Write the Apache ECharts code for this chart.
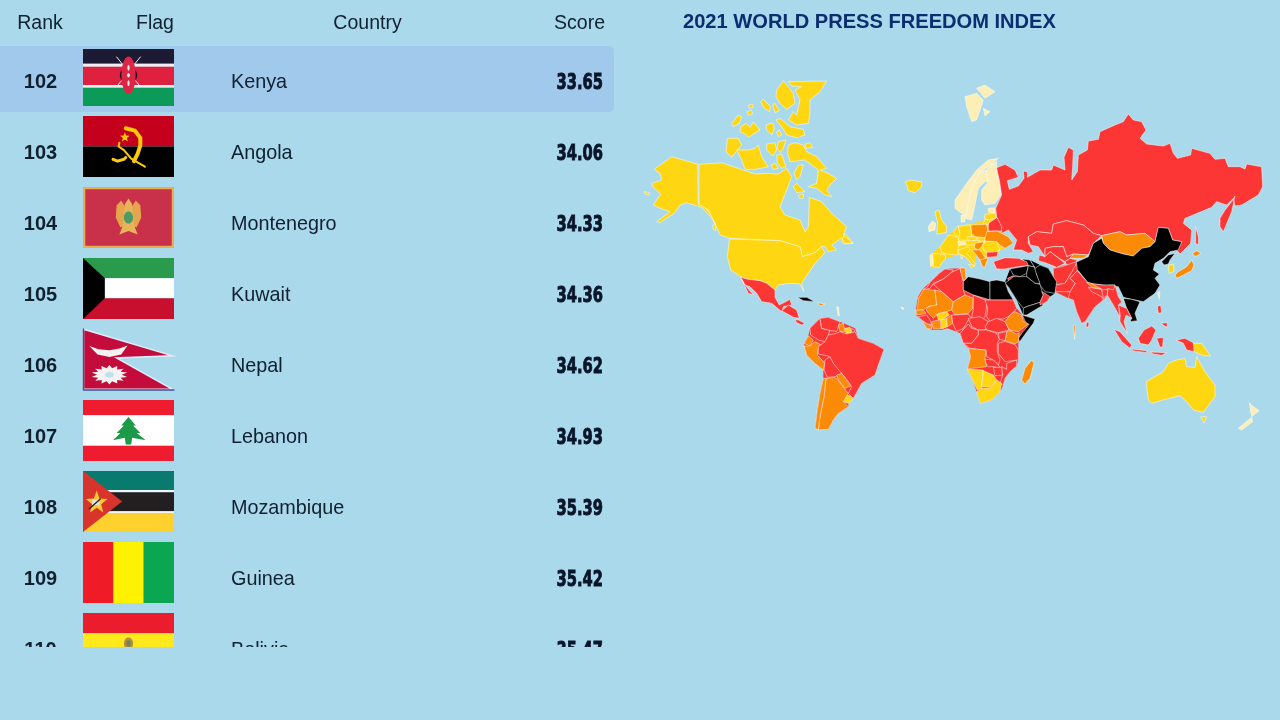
<!DOCTYPE html>
<html><head><meta charset="utf-8">
<style>html,body{margin:0;padding:0;background:#a9d9eb}#c{width:1280px;height:720px}</style>
<script src="https://cdn.jsdelivr.net/npm/echarts@6/dist/echarts.min.js"></script>
</head><body><div id="c"></div>
<script>
// ---- table values ----
const headers = ['Rank', 'Flag', 'Country', 'Score'];
const ranks = [102, 103, 104, 105, 106, 107, 108, 109, 110];
const countries = ['Kenya', 'Angola', 'Montenegro', 'Kuwait', 'Nepal', 'Lebanon', 'Mozambique', 'Guinea', 'Bolivia'];
const scores = ['33.65', '34.06', '34.33', '34.36', '34.62', '34.93', '35.39', '35.42', '35.47'];
const chartTitle = '2021 WORLD PRESS FREEDOM INDEX';
const bandColors = ['#fdeeb6', '#ffd612', '#fb8a06', '#fc3535', '#000000'];

// ---- map outline helpers: outlines traced in a local frame, scaled to the map's units ----
const F = (ox, oy) => flat => { const r = []; for (let i = 0; i < flat.length; i += 2) r.push([ox + flat[i] / 3, -(oy + flat[i + 1] / 3)]); return r; };
const a = F(640, 70), b = F(950, 70), c = F(740, 260), d = F(1020, 250), e = F(985, 245), g = F(910, 265), h = F(960, 310), k = F(925, 195), n = F(900, 150);
const landUnderlays = [
 ['land-africa', 3, [[...g([62,50,88,25,105,12,150,10,165,8,168,40,175,35,210,42,240,50]), ...e([35,105,60,110,70,140,85,165,95,190,112,210,150,222,120,268,104,290]), ...h([175,95,175,120,175,150,170,168,150,185,135,205,130,225,120,245,95,270,60,280,50,245,40,215,22,178,32,140,25,115,10,100,5,85,0,70]), ...g([140,200,112,190,95,195,70,195,50,190,35,165,18,150,18,135,22,103,35,75])]]],
 ['land-samerica', 3, [c([192,250,205,228,210,205,240,175,265,172,300,185,345,205,355,235,400,250,432,268,415,315,405,345,365,370,340,415,325,430,325,440,295,460,280,480,265,508,225,505,232,450,240,400,250,355,250,330,225,310,200,285])]],
 ['land-europe', 1, [k([15,180,22,175,45,155,70,120,85,110,100,92,135,88,180,75,190,40,210,38,215,68,235,85,230,108,250,125,265,145,240,160,225,165,215,185,190,188,185,200,178,220,165,195,150,175,150,205,148,215,120,185,100,175,100,180,62,190,50,205,42,218,17,215])]],
 ['land-arabia', 4, [e([60,112,75,72,130,62,135,45,165,60,190,70,215,110,210,145,195,155,185,170,165,180,125,210,115,210,95,165,70,125])]],
 ['land-sasia', 3, [d([100,55,170,35,172,62,205,100,285,105,295,140,305,155,295,165,300,200,280,165,262,135,250,150,225,170,195,215,185,220,170,185,160,150,145,145,105,125])]]
];
const mapShapes = [
 ['Alaska', 1, [a([42,298,95,260,173,282,175,402,195,412,218,440,225,462,212,440,185,412,140,398,120,405,105,428,60,458,50,455,90,425,60,415,40,405,62,372,40,352,35,340,65,330,60,310]), a([12,365,28,368,28,375,15,372])]],
 ['Canada', 1, [a([177,283,245,278,310,300,345,312,380,310,415,312,440,295,455,320,440,360,420,410,435,435,480,450,495,485,505,470,508,382,545,395,575,430,620,470,610,495,640,520,615,520,605,505,575,525,590,540,565,545,555,530,545,528,525,548,487,560,480,530,420,512,270,505,240,495,225,460,205,420,177,403]),
   a([410,60,430,32,445,50,460,70,465,100,440,118,420,100,408,80]), a([445,35,560,33,540,65,510,90,510,130,505,160,470,165,445,150,460,125,470,135,480,90,465,60,485,50,455,48]),
   a([362,95,370,88,392,110,388,125,370,112]), a([398,105,405,100,418,122,405,128]), a([325,105,338,102,340,112,328,115]), a([320,125,335,120,338,132,325,136]),
   a([275,160,295,135,305,140,298,160,280,170]), a([302,170,318,160,330,172,340,155,360,180,325,202,315,192,300,185]), a([378,165,398,158,403,175,395,195,380,180]),
   a([408,150,420,145,450,170,490,178,495,195,470,203,440,195,425,170]), a([410,185,418,180,425,195,415,200]), a([262,205,295,205,305,225,275,262,258,245]),
   a([290,240,325,240,345,235,355,225,365,260,385,290,345,298,315,298,305,270]), a([380,222,405,218,410,240,398,258,380,240]), a([415,215,438,210,430,235,420,248,412,235]),
   a([410,255,425,252,438,290,425,295,412,280]), a([393,285,405,280,415,295,400,298]),
   a([445,225,465,218,490,225,500,245,530,260,560,295,540,300,565,310,590,325,570,345,560,360,575,380,555,375,530,355,505,350,530,340,535,300,495,270,450,275,443,250]),
   a([462,310,475,285,490,285,480,320,470,330]), a([495,222,510,218,518,232,498,235]), a([460,350,470,340,495,365,470,368]), a([475,375,490,372,490,385,478,385]),
   a([605,515,615,490,640,520,610,522]), a([218,465,225,462,228,482,220,478])]],
 ['USA', 1, [[...a([268,507,420,512,480,530,487,560,525,548,545,530,555,548,540,565,525,580]), ...c([205,40,185,70,192,95,180,72,150,70,115,75,105,90,80,70,60,62,25,58,2,50]), ...a([272,600,262,560])]]],
 ['Mexico', 3, [c([2,52,25,58,60,62,80,70,105,90,105,112,118,135,150,118,155,135,130,140,125,155,95,130,65,125,50,100,30,80,15,75]), c([5,58,15,75,40,105,25,100])]],
 ['Central America', 3, [c([125,152,145,135,170,150,178,175,160,172,130,155]), c([165,178,175,180,195,190,185,195,170,188])]],
 ['Cuba', 4, [c([172,112,200,112,225,125,190,122])]],
 ['Haiti', 2, [c([233,128,255,132,240,138])]],
 ['Antilles', 0, [c([290,140,296,142,298,168,294,166]), c([483,140,492,145,488,150])]],
 ['Colombia', 3, [c([210,205,240,175,245,205,270,210,265,225,255,245,235,240,212,225])]],
 ['Venezuela', 3, [c([240,175,265,172,300,185,290,215,265,210,245,205])]],
 ['Guyana', 2, [c([295,195,310,190,315,215,300,215])]],
 ['Suriname', 1, [c([315,205,330,202,335,218,318,220])]],
 ['French Guiana', 3, [c([335,205,345,212,335,222])]],
 ['Ecuador', 2, [c([192,250,205,228,220,240,210,258])]],
 ['Peru', 2, [c([192,258,210,258,225,245,245,255,235,265,232,285,255,310,250,330,225,310,200,285])]],
 ['Brazil', 3, [c([235,260,255,245,265,225,290,220,300,215,320,222,345,215,355,235,400,250,432,268,415,315,405,345,365,370,340,415,325,400,335,380,325,365,305,340,290,338,280,310,265,288,235,282])]],
 ['Bolivia', 3, [c([255,300,270,290,280,310,305,340,300,345,285,350,262,352,252,330])]],
 ['Paraguay', 2, [c([290,345,305,340,320,360,332,378,315,385,295,360])]],
 ['Uruguay', 1, [c([315,402,330,408,340,418,325,430,310,425])]],
 ['Argentina', 2, [c([258,355,285,352,295,362,315,388,325,400,310,425,325,440,295,460,280,480,265,508,235,510,240,470,252,410])]],
 ['Chile', 2, [c([250,355,258,355,252,410,240,470,235,510,225,505,232,450,240,400])]],
 ['Iceland', 1, [a([795,338,810,330,845,335,845,350,825,368,805,362,800,345])]],
 ['Ireland', 0, [k([10,95,22,78,32,85,30,105,12,110])]],
 ['UK', 1, [k([30,50,42,45,50,75,65,95,65,112,35,118,38,85])]],
 ['Norway', 0, [n([165,150,200,100,230,60,265,30,295,25,275,45,240,65,215,115,205,160,195,205,185,190,165,175])]],
 ['Sweden', 0, [n([205,160,215,115,240,65,258,60,265,95,255,95,235,115,225,165,215,210,197,205])]],
 ['Finland', 0, [n([258,60,275,45,290,35,290,60,300,110,302,135,285,160,255,165,245,150,245,120,265,95])]],
 ['Denmark', 0, [n([183,195,195,198,195,215,183,217])]],
 ['Portugal', 0, [k([15,180,25,178,25,210,17,215])]],
 ['Spain', 1, [k([22,175,60,178,62,190,50,205,42,218,25,215,25,195])]],
 ['France', 1, [k([45,155,70,120,95,125,105,140,98,165,100,180,75,178,60,175,50,172]), k([108,178,113,178,112,192,107,190])]],
 ['Benelux', 1, [k([85,110,100,92,105,120,95,125])]],
 ['Germany', 1, [k([100,95,135,88,140,125,128,135,100,135,105,115])]],
 ['Switzerland', 0, [k([98,140,118,138,122,148,102,152])]],
 ['Austria', 1, [k([120,138,165,135,160,150,122,150])]],
 ['Poland', 2, [k([138,90,185,88,190,115,180,128,150,125,140,115])]],
 ['Czechia', 1, [k([128,125,150,125,160,135,130,138])]],
 ['Slovakia', 1, [k([155,128,180,128,180,138,160,138])]],
 ['Belarus', 3, [k([190,85,215,68,235,85,230,108,190,108])]],
 ['Estonia', 0, [k([190,40,210,38,210,55,190,52])]],
 ['Latvia', 1, [k([180,58,210,55,215,68,190,75,178,70])]],
 ['Lithuania', 1, [k([180,72,195,75,190,88,175,85])]],
 ['Ukraine', 2, [k([185,110,215,108,250,125,265,145,240,160,225,150,215,140,180,138,180,130])]],
 ['Hungary', 2, [k([150,145,178,140,170,155,160,165,148,158])]],
 ['Romania', 1, [k([180,140,215,140,225,165,205,175,180,170,170,155])]],
 ['Bulgaria', 3, [k([185,172,220,170,215,185,185,187])]],
 ['Italy', 1, [k([100,165,130,155,135,165,125,175,150,205,148,215,120,185,100,175]), k([130,208,148,212,140,220])]],
 ['Balkans', 2, [k([140,165,165,165,185,195,175,215,165,195,150,175])]],
 ['Greece', 2, [k([165,195,190,188,185,200,178,220,170,210])]],
 ['Svalbard', 0, [b([45,80,80,70,100,90,80,150,65,155,50,110]), b([80,55,105,45,135,65,105,85]), b([100,115,120,125,105,138])]],
 ['Russia', 3, [b([140,293,165,283,195,300,205,322,172,332,178,358,205,348,222,325,220,303,232,305,232,322,270,300,305,300,310,285,345,300,342,262,355,232,370,240,368,290,365,330,382,305,385,255,412,240,415,213,445,208,450,185,495,165,520,155,535,132,550,150,575,155,588,180,570,205,590,222,640,228,660,220,670,250,682,265,722,255,725,235,780,250,795,268,825,265,835,290,870,290,885,297,890,282,935,290,938,350,925,375,875,405,855,408,850,385,830,405,800,395,785,412,705,445,700,460,725,480,722,520,690,552,680,540,695,515,668,510,655,475,625,472,615,515,585,490,530,495,510,485,455,497,430,490,400,465,350,452,310,462,305,490,260,485,235,500,235,520,250,545,235,550,215,540,190,540,200,510,175,480,155,490,155,470,140,440,137,415,155,375,148,330,143,310]),
   b([810,445,825,420,845,395,855,378,845,425,820,485,810,470]), b([737,470,745,500,745,525,737,520])]],
 ['Kazakhstan', 3, [b([235,500,260,485,305,490,310,462,350,452,400,465,430,490,455,497,430,520,415,555,370,552,350,560,340,530,310,530,285,535,285,560,265,530,240,525])]],
 ['Uzbekistan', 3, [b([285,535,310,530,340,530,350,560,370,552,360,565,345,575,320,560,300,545,285,560])]],
 ['Turkmenistan', 3, [b([265,572,268,555,285,560,300,545,320,560,345,580,320,592,290,580,275,575])]],
 ['Kyrgyzstan', 2, [b([370,552,415,555,400,565,360,565])]],
 ['Tajikistan', 3, [b([345,575,360,565,380,570,385,590,350,585])]],
 ['Mongolia', 2, [b([455,497,510,485,530,495,585,490,615,515,600,530,575,535,550,558,520,552,480,540,460,520])]],
 ['China', 4, [[...b([455,505,460,520,480,540,520,552,550,558,575,535,600,530,615,515,625,472,655,475,668,510,695,515,685,540,660,545,640,565,615,580]), ...d([400,60,418,72,405,85,420,105,405,130,370,155,335,148,310,142,295,110,250,105,205,100,175,62,150,45]), ...b([375,578,415,560,430,520])]]],
 ['North Korea', 4, [d([425,35,445,15,465,10,450,30,445,42,432,45])]],
 ['South Korea', 1, [d([445,45,460,42,462,65,447,70])]],
 ['Japan', 2, [d([465,75,475,65,500,50,515,30,522,45,515,62,490,75,470,85]), d([518,10,530,2,543,10,530,18,522,18])]],
 ['Taiwan', 0, [d([412,128,420,125,418,148])]],
 ['Vietnam', 4, [d([310,145,335,148,360,155,345,190,352,212,330,215,335,205,320,175])]],
 ['Thailand', 3, [d([295,165,320,175,335,205,318,195,312,215,322,250,300,215,300,190])]],
 ['Myanmar', 3, [d([265,105,285,105,295,140,305,155,295,165,300,200,280,165,262,135])]],
 ['India', 3, [d([172,62,205,100,250,105,285,105,280,120,262,115,262,135,248,130,245,118,205,112,215,125,245,140,250,150,225,170,195,215,185,220,170,185,160,150,145,145,150,125,165,100,150,85])]],
 ['Bangladesh', 3, [d([245,120,262,118,262,135,250,145])]],
 ['Nepal', 2, [d([200,97,210,98,245,117,215,112])]],
 ['Sri Lanka', 3, [d([200,215,207,220,205,232,198,230])]],
 ['Maldives', 2, [d([160,225,166,225,164,268])]],
 ['Afghanistan', 3, [d([100,55,125,50,170,35,165,55,150,75,135,100,105,105,100,85])]],
 ['Pakistan', 3, [d([170,40,172,62,150,85,165,100,150,125,135,125,105,125,105,105,135,100,150,75])]],
 ['Iran', 4, [e([135,45,150,70,165,60,190,70,205,95,215,110,210,145,180,140,165,120,155,90])]],
 ['Caucasus', 4, [e([112,42,135,45,148,66,128,62])]],
 ['Turkey', 3, [e([25,50,60,38,100,40,125,50,130,62,100,65,60,72,35,72])]],
 ['Syria', 4, [e([75,72,130,62,125,85,105,95,85,90])]],
 ['Lebanon', 3, [e([68,100,85,92,90,100,72,112])]],
 ['Iraq', 4, [e([130,62,148,66,155,90,165,115,150,115,125,95,125,85])]],
 ['Saudi Arabia', 4, [e([85,95,105,95,125,95,150,115,165,118,170,135,175,150,165,172,125,185,115,190,95,165,70,125,60,115])]],
 ['Yemen', 4, [e([115,190,125,185,165,172,175,180,125,210,115,210])]],
 ['Oman', 3, [e([170,140,180,145,195,155,185,170,165,180,165,172,175,150])]],
 ['Morocco', 3, [g([62,50,88,25,105,12,130,15,125,22,100,42,70,55,60,70,50,72,25,100,20,100,35,75,50,68])]],
 ['Algeria', 3, [g([100,42,125,22,150,10,160,48,160,75,165,90,130,110,95,80,70,58])]],
 ['Tunisia', 2, [g([150,10,165,8,168,40,160,48])]],
 ['Libya', 4, [g([160,50,175,35,210,42,240,50,240,105,225,100,190,90,160,75])]],
 ['Egypt', 4, [e([15,108,35,105,60,110,70,140,85,165,15,165])]],
 ['Mauritania', 2, [g([25,100,42,72,62,75,75,75,80,120,55,125,40,135,22,135])]],
 ['Mali', 2, [g([75,75,95,80,130,112,125,135,110,140,85,145,70,160,60,150,48,135,55,125,80,120])]],
 ['Niger', 2, [g([130,110,165,90,190,100,188,130,175,145,135,150,125,135])]],
 ['Senegal', 2, [g([18,135,40,135,48,145,20,150])]],
 ['Guinea', 3, [g([25,155,50,150,60,165,65,180,50,175,35,165])]],
 ['Sierra Leone', 2, [g([38,168,50,177,65,182,65,192,50,190])]],
 ['Ivory Coast', 2, [g([65,170,85,165,92,172,92,192,70,192])]],
 ['Burkina Faso', 1, [g([80,148,110,140,118,150,95,165,85,165])]],
 ['Ghana', 1, [g([92,165,110,160,112,185,95,192])]],
 ['Benin', 2, [g([110,160,125,150,128,175,112,185])]],
 ['Nigeria', 3, [g([125,150,175,148,185,160,160,190,140,200,128,175])]],
 ['Cameroon', 3, [g([175,165,190,155,185,190,180,210,155,210,160,190])]],
 ['Chad', 3, [g([190,90,232,108,225,155,205,175,190,180,185,160,190,130])]],
 ['Sudan', 3, [e([0,165,85,165,95,190,75,212,55,222,38,222,15,230,5,215,8,190])]],
 ['CAR', 3, [h([25,25,60,20,85,35,75,60,55,60,35,50])]],
 ['South Sudan', 3, [h([85,35,110,25,135,35,148,60,115,68,80,60,75,50])]],
 ['Gabon', 3, [h([0,70,25,42,35,55,55,60,55,75,35,100,10,100,5,85])]],
 ['DRC', 3, [h([55,60,80,60,110,70,118,88,112,100,112,125,120,150,115,165,100,150,80,140,78,120,55,118,30,115,10,100,35,100,55,75])]],
 ['Ethiopia', 2, [h([165,5,185,15,190,35,210,38,175,65,148,60,135,35,150,15])]],
 ['Somalia', 4, [e([112,210,150,222,145,235,120,268,104,290,100,280,110,265,132,238,122,232])]],
 ['Kenya', 2, [h([140,65,150,62,170,72,178,68,175,95,165,102,135,92])]],
 ['Uganda', 3, [h([115,70,140,65,135,92,118,88])]],
 ['Tanzania', 3, [h([115,100,135,94,165,104,175,120,175,150,135,155,115,130])]],
 ['Angola', 2, [h([25,115,55,118,78,120,75,145,80,170,35,175,22,178,32,140])]],
 ['Zambia', 3, [h([75,148,100,150,115,165,122,175,100,170,85,170,80,165])]],
 ['Zimbabwe', 3, [h([100,172,125,172,128,195,105,197])]],
 ['Mozambique', 3, [h([140,160,170,150,170,168,150,185,135,205,130,225,120,222,128,195,125,170,140,178])]],
 ['Namibia', 1, [h([22,178,70,180,65,235,52,240,40,215])]],
 ['Botswana', 1, [h([70,182,100,195,110,210,90,232,65,230])]],
 ['South Africa', 1, [h([65,235,90,235,110,210,125,220,120,245,95,270,60,280,50,245])]],
 ['Madagascar', 2, [h([195,175,215,150,222,160,210,205,195,222,185,210])]],
 ['Australia', 1, [d([378,395,430,365,445,340,470,330,495,325,500,350,525,352,530,320,555,365,585,405,585,440,550,487,520,480,500,455,480,437,440,447,395,460,385,450]), d([542,500,560,500,552,520])]],
 ['PNG', 1, [d([520,280,545,280,572,318,545,315,522,305])]],
 ['Indonesia', 3, [d([468,270,495,265,520,278,522,305,500,300,490,280]), d([355,265,372,240,395,228,408,240,395,270,385,285,360,280]), d([282,238,300,245,335,285,330,295,305,275]), d([335,297,380,302,380,308,338,302]), d([410,265,430,262,428,290,420,292]), d([390,306,440,308,425,316,400,312])]],
 ['Philippines', 3, [d([412,170,422,165,425,188,415,190]), d([422,220,443,218,440,232])]],
 ['New Zealand', 0, [d([688,458,700,470,718,482,695,500]), d([655,535,695,502,698,515,665,540])]]
];
const allShapes = [...landUnderlays, ...mapShapes];
const geoJson = { type: 'FeatureCollection', features: allShapes.map(([name, , rings]) => ({
  type: 'Feature', properties: { name },
  geometry: { type: 'MultiPolygon', coordinates: rings.map(r => [[...r, r[0]]]) } })) };
echarts.registerMap('pressFreedom', geoJson);

// ---- flags drawn in the flag's own 0..1 box ----
function flagArt(name, x, y, w, h) {
  const px = p => [x + p[0] * w, y + p[1] * h];
  const R = (u0, v0, u1, v1, fill) => ({ type: 'rect', shape: { x: x + u0 * w, y: y + v0 * h, width: (u1 - u0) * w, height: (v1 - v0) * h }, style: { fill } });
  const P = (pts, fill, stroke, lw) => ({ type: 'polygon', shape: { points: pts.map(px) }, style: { fill, stroke: stroke || null, lineWidth: lw || 0 } });
  const L = (pts, stroke, lw) => ({ type: 'polyline', shape: { points: pts.map(px) }, style: { fill: null, stroke, lineWidth: lw, lineCap: 'round', lineJoin: 'round' } });
  const ell = (cu, cv, ru, rv) => { const o = []; for (let i = 0; i < 28; i++) { const t = i / 28 * Math.PI * 2; o.push([cu + ru * Math.cos(t), cv + rv * Math.sin(t)]); } return o; };
  const star = (cu, cv, ru, rv, inner, n) => { const o = []; for (let i = 0; i < n * 2; i++) { const t = -Math.PI / 2 + i * Math.PI / n, f = i % 2 ? inner : 1; o.push([cu + f * ru * Math.cos(t), cv + f * rv * Math.sin(t)]); } return o; };
  switch (name) {
    case 'Kenya': return [R(0,0,1,.26,'#1d1a33'), R(0,.26,1,.31,'#f4eef2'), R(0,.31,1,.63,'#e0203f'), R(0,.63,1,.68,'#f4eef2'), R(0,.68,1,1,'#0b9a58'),
      L([[.37,.14],[.63,.66]],'#f4eef2',1), L([[.63,.14],[.37,.66]],'#f4eef2',1), P(ell(.5,.46,.095,.15),'#1b1522'), P(ell(.5,.46,.078,.33),'#dc2646'), P(ell(.5,.33,.012,.05),'#f4eef2'), P(ell(.5,.6,.012,.05),'#f4eef2'), P(ell(.5,.46,.016,.035),'#f4eef2')];
    case 'Angola': return [R(0,0,1,.5,'#c4001d'), R(0,.5,1,1,'#000000'),
      L([[.47,.2],[.57,.24],[.63,.36],[.63,.48],[.6,.62],[.56,.74]],'#fdcb0a',4), L([[.4,.44],[.39,.5],[.45,.56],[.53,.7],[.68,.83]],'#fdcb0a',2), L([[.33,.71],[.38,.74],[.45,.71],[.47,.68]],'#fdcb0a',3), P(star(.46,.35,.055,.085,.42,5),'#fdcb0a')];
    case 'Montenegro': return [R(0,0,1,1,'#e9ad50'), R(.025,.035,.975,.965,'#c9304a'),
      P([[.47,.34],[.42,.22],[.37,.3],[.36,.5],[.41,.66],[.47,.64]],'#e4a54c'), P([[.53,.34],[.58,.22],[.63,.3],[.64,.5],[.59,.66],[.53,.64]],'#e4a54c'),
      P([[.46,.28],[.5,.19],[.54,.28],[.56,.62],[.6,.78],[.5,.72],[.4,.78],[.44,.62]],'#e8b35a'), P(ell(.5,.5,.05,.1),'#4f9a63')];
    case 'Kuwait': return [R(0,0,1,.33,'#2a9a4c'), R(0,.33,1,.66,'#ffffff'), R(0,.66,1,1,'#c8102e'), P([[0,0],[.24,.33],[.24,.66],[0,1]],'#000000')];
    case 'Nepal': return [P([[.005,.005],[.985,.44],[.37,.475],[.985,.99],[.005,.99]],'#c40c3c','#dcebfa',1.6), L([[.005,0],[.005,1],[1,1]],'#3c5299',1.4),
      P([[.07,.28],[.17,.33],[.29,.35],[.4,.32],[.49,.27],[.42,.42],[.29,.46],[.16,.42]],'#f7f2f0'), P(star(.29,.75,.2,.16,.68,14),'#f7f2f0'), P(star(.29,.75,.06,.06,.7,8),'#bfe0ee')];
    case 'Lebanon': return [R(0,0,1,.25,'#ee1c2e'), R(0,.25,1,.75,'#ffffff'), R(0,.75,1,1,'#ee1c2e'),
      P([[.5,.28],[.58,.42],[.55,.42],[.63,.54],[.59,.54],[.69,.66],[.54,.62],[.53,.73],[.47,.73],[.46,.62],[.33,.66],[.41,.54],[.37,.54],[.45,.42],[.42,.42]],'#1b9a48')];
    case 'Mozambique': return [R(0,0,1,.31,'#087a6e'), R(0,.31,1,.35,'#f4f4f4'), R(0,.35,1,.66,'#231f20'), R(0,.66,1,.69,'#f4f4f4'), R(0,.69,1,1,'#fed12e'),
      P([[0,0],[.43,.5],[0,1]],'#d8342c'), P(star(.15,.52,.125,.2,.42,5),'#fbc92f'), P([[.1,.47],[.18,.47],[.18,.56],[.1,.56]],'#e8e4da'), L([[.07,.62],[.19,.46]],'#222222',1.3)];
    case 'Guinea': return [R(0,0,.335,1,'#ef1c27'), R(.335,0,.665,1,'#fff200'), R(.665,0,1,1,'#0aa651')];
    default: return [R(0,0,1,.33,'#eb1c2b'), R(0,.33,1,.66,'#ffe91c'), R(0,.66,1,1,'#0a9a4c'), P(ell(.5,.5,.05,.1),'#b98a3e'), P(ell(.5,.5,.025,.05),'#5f8a60')];
  }
}

const rowHeight = 71, firstRowPx = 81, gridTop = 45.5, clipBottom = 647;
const chart = echarts.init(document.getElementById('c'), null, { renderer: 'canvas' });
const textColor = '#10202f';
chart.setOption({
  backgroundColor: '#a9d9eb',
  animation: false,
  title: { text: chartTitle, left: 683, top: 12, padding: 0, textStyle: { fontFamily: 'Liberation Sans', fontWeight: 'bold', fontSize: 20.1, color: '#0c2d70' } },
  grid: { left: 0, top: gridTop, width: 614, height: clipBottom - gridTop },
  xAxis: { type: 'value', min: 0, max: 614, show: false },
  yAxis: { type: 'value', inverse: true, min: ranks[0] - (firstRowPx - gridTop) / rowHeight, max: ranks[0] - (firstRowPx - gridTop) / rowHeight + (clipBottom - gridTop) / rowHeight, show: false },
  graphic: headers.map((t, i) => ({ type: 'text', x: [40, 155, 367.5, 579.5][i], y: 23.5, style: { text: t, font: '19.5px "Liberation Sans"', fill: textColor, align: 'center', verticalAlign: 'middle' } })),
  series: [
    { type: 'custom', coordinateSystem: 'cartesian2d', clip: true, silent: true,
      data: ranks.map((r, i) => [i, r]), encode: { x: 0, y: 1 },
      renderItem(params, api) {
        const i = api.value(0), rank = api.value(1), cy = api.coord([0, rank])[1];
        const kids = [];
        if (i === 0) kids.push({ type: 'rect', shape: { x: -6, y: cy - 35, width: 620, height: 66, r: 5 }, style: { fill: '#a0c9ec' } });
        const fy = i === 0 ? cy - 32 : cy - 36, fh = i === 0 ? 57 : 61;
        flagArt(countries[i], 83, fy, 91, fh).forEach(o => kids.push(o));
        kids.push({ type: 'text', x: 40.5, y: cy + 1, style: { text: String(rank), font: 'bold 20px "Liberation Sans"', fill: textColor, align: 'center', verticalAlign: 'middle' } });
        kids.push({ type: 'text', x: 231, y: cy + 2, style: { text: countries[i], font: '19.8px "Liberation Sans"', fill: textColor, align: 'left', verticalAlign: 'middle' } });
        kids.push({ type: 'text', x: 603, y: cy + 2.5, scaleX: 0.7, style: { text: scores[i], font: 'bold 21px "DejaVu Sans"', fill: '#081428', stroke: '#081428', lineWidth: 0.9, align: 'right', verticalAlign: 'middle' } });
        return { type: 'group', children: kids };
      } },
    { type: 'map', map: 'pressFreedom', silent: true, roam: false, aspectScale: 1,
      boundingCoords: [[640, -70], [1280, -440]], left: 640, top: 70, width: 640, height: 370,
      label: { show: false }, emphasis: { disabled: true }, select: { disabled: true },
      itemStyle: { borderColor: '#ffffff', borderWidth: 0.5, areaColor: '#ffd612' },
      data: allShapes.map(([name, band], i) => ({ name, value: band, itemStyle: { areaColor: bandColors[band], borderWidth: i < landUnderlays.length ? 0 : 0.5 } })) }
  ]
});
</script></body></html>
